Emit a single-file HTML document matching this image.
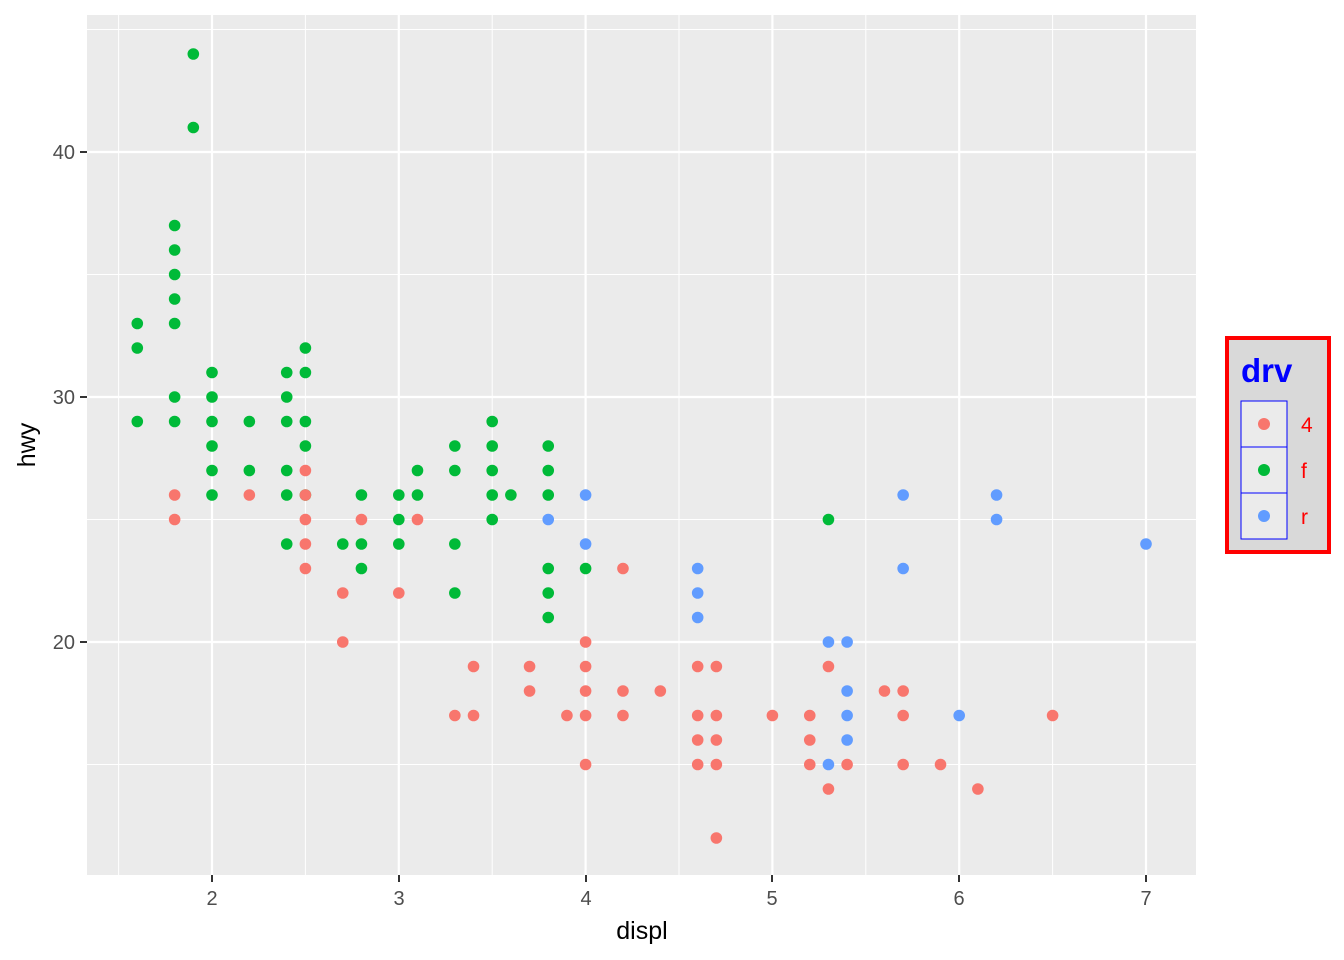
<!DOCTYPE html>
<html><head><meta charset="utf-8"><style>
body{margin:0;background:#fff;}
svg{display:block;font-family:"Liberation Sans",sans-serif;}
</style></head><body>
<svg id="s" width="1344" height="960" xmlns="http://www.w3.org/2000/svg">
<rect x="87" y="15" width="1109" height="860" fill="#EBEBEB"/>
<g id="grid"></g>
<g id="pts"></g>
<g font-size="20" fill="#4D4D4D" text-anchor="end">
<text x="75" y="159">40</text><text x="75" y="404">30</text><text x="75" y="649">20</text>
</g>
<g stroke="#333" stroke-width="2">
<line x1="80" x2="87" y1="152" y2="152"/><line x1="80" x2="87" y1="397" y2="397"/><line x1="80" x2="87" y1="642" y2="642"/>
<line x1="212" x2="212" y1="875" y2="882"/><line x1="399" x2="399" y1="875" y2="882"/><line x1="586" x2="586" y1="875" y2="882"/>
<line x1="772" x2="772" y1="875" y2="882"/><line x1="959" x2="959" y1="875" y2="882"/><line x1="1146" x2="1146" y1="875" y2="882"/>
</g>
<g font-size="20" fill="#4D4D4D" text-anchor="middle">
<text x="212" y="905">2</text><text x="399" y="905">3</text><text x="586" y="905">4</text>
<text x="772" y="905">5</text><text x="959" y="905">6</text><text x="1146" y="905">7</text>
</g>
<text x="642" y="939" font-size="25" text-anchor="middle">displ</text>
<text transform="translate(35,445) rotate(-90)" font-size="25" text-anchor="middle">hwy</text>
<rect x="1227" y="338" width="102" height="214" fill="#D9D9D9" stroke="#FF0000" stroke-width="4"/>
<text x="1241" y="382" font-size="33" font-weight="bold" fill="#0000FF">drv</text>
<rect x="1241" y="401" width="46" height="46" fill="#EBEBEB" stroke="#0000FF" stroke-width="1"/>
<rect x="1241" y="447" width="46" height="46" fill="#EBEBEB" stroke="#0000FF" stroke-width="1"/>
<rect x="1241" y="493" width="46" height="46" fill="#EBEBEB" stroke="#0000FF" stroke-width="1"/>
<circle cx="1264" cy="424" r="6" fill="#F8766D"/>
<circle cx="1264" cy="470" r="6" fill="#00BA38"/>
<circle cx="1264" cy="516" r="6" fill="#619CFF"/>
<g font-size="21" fill="#FF0000">
<text x="1301" y="432">4</text><text x="1301" y="478">f</text><text x="1301" y="524">r</text>
</g>
</svg>
<script>
const X=v=>212+(v-2)*186.8, Y=v=>642-(v-20)*24.5;
let g='';
[1.5,2.5,3.5,4.5,5.5,6.5].forEach(v=>g+=`<line x1="${X(v)}" x2="${X(v)}" y1="15" y2="875" stroke="#fff" stroke-width="1"/>`);
[15,25,35,45].forEach(v=>g+=`<line x1="87" x2="1196" y1="${Y(v)}" y2="${Y(v)}" stroke="#fff" stroke-width="1"/>`);
[2,3,4,5,6,7].forEach(v=>g+=`<line x1="${X(v)}" x2="${X(v)}" y1="15" y2="875" stroke="#fff" stroke-width="2.2"/>`);
[20,30,40].forEach(v=>g+=`<line x1="87" x2="1196" y1="${Y(v)}" y2="${Y(v)}" stroke="#fff" stroke-width="2.2"/>`);
document.getElementById('grid').innerHTML=g;
const C={r:'#F8766D',g:'#00BA38',b:'#619CFF'};
const D=[
[1.6,'g',[33,32,29]],[1.8,'g',[37,36,35,34,33,30,29]],[1.8,'r',[26,25]],[1.9,'g',[44,41]],
[2.0,'g',[31,30,29,28,27,26]],[2.2,'g',[29,27]],[2.2,'r',[26]],[2.4,'g',[31,30,29,27,26,24]],
[2.5,'g',[32,31,29,28,26]],[2.5,'r',[27,26,25,24,23]],[2.7,'g',[24]],[2.7,'r',[22,20]],
[2.8,'g',[26,24,23]],[2.8,'r',[25]],[3.0,'g',[26,25,24]],[3.0,'r',[22]],[3.1,'g',[27,26]],[3.1,'r',[25]],
[3.3,'g',[28,27,24,22]],[3.3,'r',[17]],[3.4,'r',[19,17]],[3.5,'g',[29,28,27,26,25]],[3.6,'g',[26]],
[3.7,'r',[19,18]],[3.8,'g',[28,27,26,23,22,21]],[3.8,'b',[25]],[3.9,'r',[17]],
[4.0,'b',[26,24]],[4.0,'g',[23]],[4.0,'r',[20,19,18,17,15]],[4.2,'r',[23,18,17]],[4.4,'r',[18]],
[4.6,'b',[23,22,21]],[4.6,'r',[19,17,16,15]],[4.7,'r',[19,17,16,15,12]],[5.0,'r',[17]],
[5.2,'r',[17,16,15]],[5.3,'g',[25]],[5.3,'b',[20,15]],[5.3,'r',[19,14]],[5.4,'b',[20,18,17,16]],[5.4,'r',[15]],
[5.6,'r',[18]],[5.7,'b',[26,23]],[5.7,'r',[18,17,15]],[5.9,'r',[15]],[6.0,'b',[17]],[6.1,'r',[14]],
[6.2,'b',[26,25]],[6.5,'r',[17]],[7.0,'b',[24]]];
let p='';
D.forEach(([x,c,ys])=>ys.forEach(y=>p+=`<circle cx="${X(x)}" cy="${Y(y)}" r="5.8" fill="${C[c]}"/>`));
document.getElementById('pts').innerHTML=p;
</script>
</body></html>
